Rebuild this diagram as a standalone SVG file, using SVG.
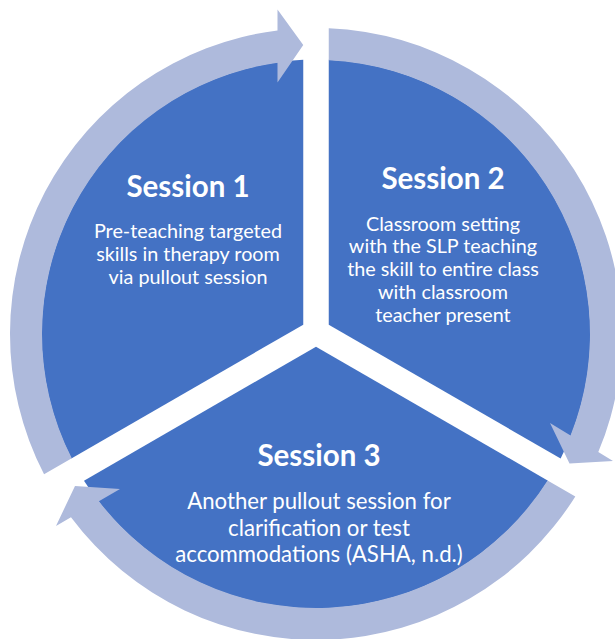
<svg xmlns="http://www.w3.org/2000/svg" width="615" height="639" viewBox="0 0 615 639">
  <style>
    .sector { fill: #4472C4; }
    .ring { fill: #AEBADC; }
    .title { font-family: Lato, "Liberation Sans", sans-serif; font-weight: bold; font-size: 29.5px; fill: #FFFFFF; text-anchor: middle; }
    .body { font-family: Lato, "Liberation Sans", sans-serif; font-size: 19.8px; fill: #FFFFFF; text-anchor: middle; }
    .body3 { font-family: Lato, "Liberation Sans", sans-serif; font-size: 22.2px; fill: #FFFFFF; text-anchor: middle; }
  </style>
  <rect x="0" y="0" width="615" height="639" fill="#FFFFFF"/>

  <g id="session1">
    <path class="sector" d="M303.25,324.64 L303.25,59.8 A274.5,274.5 0 0 0 71.37,458.52 Z"/>
    <text class="title" x="188" y="197">Session 1</text>
    <text class="body" x="188" y="238">Pre-teaching targeted</text>
    <text class="body" x="188" y="261">skills in therapy room</text>
    <text class="body" x="188" y="284">via pullout session</text>
  </g>

  <g id="session2">
    <path class="sector" d="M328.75,324.64 L328.75,59.8 A274.5,274.5 0 0 1 560.63,458.52 Z"/>
    <text class="title" x="443" y="189">Session 2</text>
    <text class="body" x="443" y="230.5">Classroom setting</text>
    <text class="body" x="443" y="253.3">with the SLP teaching</text>
    <text class="body" x="443" y="276">the skill to entire class</text>
    <text class="body" x="443" y="299">with classroom</text>
    <text class="body" x="443" y="321.7">teacher present</text>
  </g>

  <g id="session3">
    <path class="sector" d="M316,346.72 L548.02,480.68 A274.5,274.5 0 0 1 83.98,480.68 Z"/>
    <text class="title" x="319" y="466">Session 3</text>
    <text class="body3" x="319" y="509">Another pullout session for</text>
    <text class="body3" x="319" y="535.5">clarification or test</text>
    <text class="body3" x="319" y="561.5">accommodations (ASHA, n.d.)</text>
  </g>

  <g id="connectors">
    <path id="arrow1" class="ring" d="M44.06,474.29 A306,306 0 0 1 277.5,30.43 L277.5,9.5 L303.25,45 L277.5,82.5 L277.5,62.72 A274,274 0 0 0 71.80,458.27 Z"/>
    <path id="arrow2" class="ring" d="M328.75,28.27 A306,306 0 0 1 598.28,452.12 L613,461 L569.5,463.6 L550,423 L570.55,435.40 A274,274 0 0 0 328.75,60.30 Z"/>
    <path id="arrow3" class="ring" d="M575.32,496.44 A306,306 0 0 1 70.98,517.3 L56,526 L75,485.9 L120,489 L98.90,501.18 A274,274 0 0 0 547.59,480.43 Z"/>
  </g>
</svg>
